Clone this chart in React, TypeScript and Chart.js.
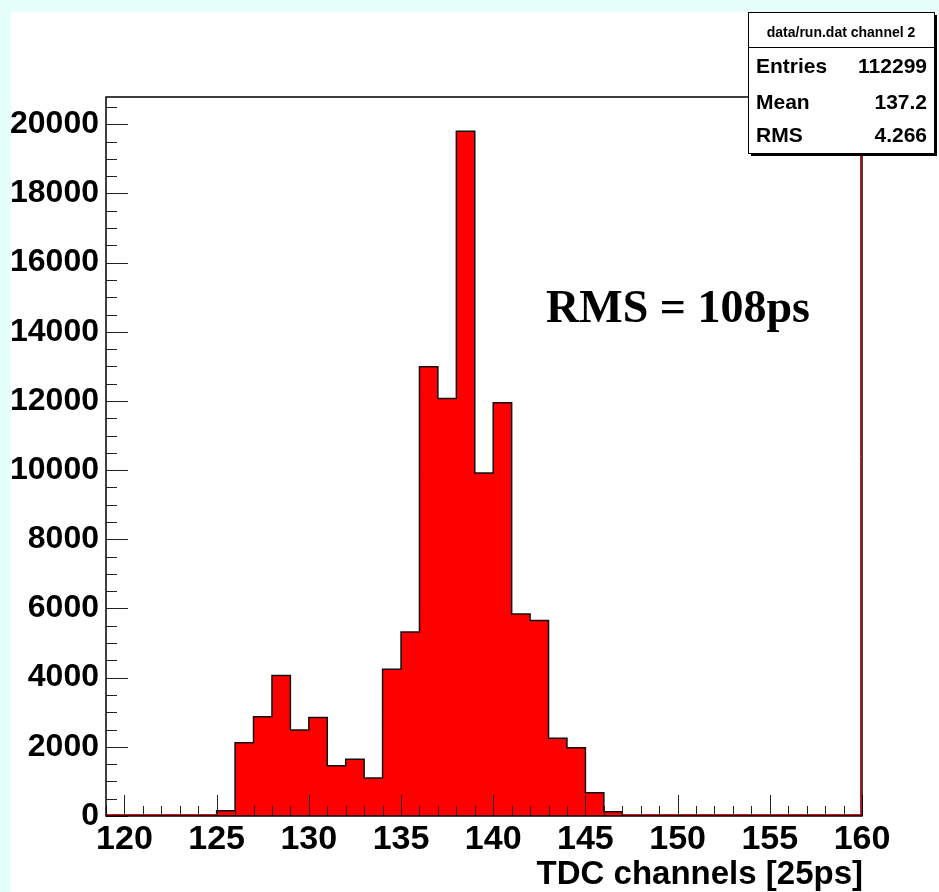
import React, { useEffect, useRef } from "react";
import { Chart, registerables } from "chart.js";

Chart.register(...registerables);

// Histogram bins: lower edge of each unit-wide TDC channel bin
const binLowEdges = [
  119, 120, 121, 122, 123, 124, 125, 126, 127, 128, 129, 130, 131, 132, 133,
  134, 135, 136, 137, 138, 139, 140, 141, 142, 143, 144, 145, 146, 147, 148,
  149, 150, 151, 152, 153, 154, 155, 156, 157, 158, 159,
];
const binCounts = [
  0, 0, 0, 0, 0, 0, 150, 2120, 2870, 4060, 2490, 2850, 1450, 1640, 1100,
  4240, 5320, 12990, 12070, 19800, 9920, 11950, 5840, 5650, 2250, 1970, 670, 120, 0, 0,
  0, 0, 0, 0, 0, 0, 0, 0, 0, 0, 0,
];
const histUpperEdge = 160;

const xMin = 119;
const xMax = 160;
const yMin = 0;
const yMax = 20790;

const xMajorTicks = [120, 125, 130, 135, 140, 145, 150, 155, 160];
const yMajorTicks = [0, 2000, 4000, 6000, 8000, 10000, 12000, 14000, 16000, 18000, 20000];
const xMinorStep = 1;
const yMinorStep = 500;

const xAxisTitle = "TDC channels [25ps]";
const annotationText = "RMS = 108ps";
const statsTitle = "data/run.dat channel 2";
const statsLabels = ["Entries", "Mean", "RMS"];
const statsValues = ["112299", "137.2", "4.266"];

const W = 939;
const H = 892;
const SANS = "'Liberation Sans', Arial, Helvetica, sans-serif";
const SERIF = "'Liberation Serif', 'Times New Roman', serif";

export default function App() {
  const canvasRef = useRef<HTMLCanvasElement | null>(null);

  useEffect(() => {
    document.body.style.margin = "0";
    const canvas = canvasRef.current;
    if (!canvas) return;

    const histData = binLowEdges.map((x, i) => ({ x, y: binCounts[i] }));
    histData.push({ x: histUpperEdge, y: 0 });

    const backgroundPlugin = {
      id: "rootBackground",
      beforeDraw(chart: any) {
        const ctx = chart.ctx;
        ctx.save();
        ctx.fillStyle = "#e6fffb";
        ctx.fillRect(0, 0, W, H);
        ctx.fillStyle = "#ffffff";
        ctx.fillRect(11, 12, W - 11, H - 12);
        ctx.restore();
      },
    };

    const framePlugin = {
      id: "rootFrame",
      afterDatasetsDraw(chart: any) {
        const ctx = chart.ctx;
        const { left, right, top, bottom } = chart.chartArea;
        const xs = chart.scales.x;
        const ys = chart.scales.y;
        ctx.save();
        // red zero-level and right-edge lines of the histogram fill
        ctx.strokeStyle = "#ff0000";
        ctx.lineWidth = 1;
        ctx.beginPath();
        ctx.moveTo(left, bottom - 1.5);
        ctx.lineTo(right, bottom - 1.5);
        ctx.moveTo(right - 1.5, top);
        ctx.lineTo(right - 1.5, bottom);
        ctx.stroke();

        // tick marks (inside the frame)
        ctx.strokeStyle = "#222";
        ctx.lineWidth = 1;
        ctx.beginPath();
        for (let v = Math.ceil(yMin / yMinorStep) * yMinorStep; v <= yMax; v += yMinorStep) {
          const y = Math.round(ys.getPixelForValue(v)) + 0.5;
          const major = yMajorTicks.includes(v);
          ctx.moveTo(left, y);
          ctx.lineTo(left + (major ? 22 : 11), y);
        }
        for (let v = Math.ceil(xMin / xMinorStep) * xMinorStep; v <= xMax; v += xMinorStep) {
          const x = Math.round(xs.getPixelForValue(v)) + 0.5;
          const major = xMajorTicks.includes(v);
          ctx.moveTo(x, bottom);
          ctx.lineTo(x, bottom - (major ? 21 : 10));
        }
        ctx.stroke();

        // frame
        ctx.strokeStyle = "#000";
        ctx.lineWidth = 1.5;
        ctx.strokeRect(left, top, right - left, bottom - top);
        ctx.restore();
      },
      afterDraw(chart: any) {
        const ctx = chart.ctx;
        const { right } = chart.chartArea;
        ctx.save();

        // annotation
        ctx.fillStyle = "#000";
        ctx.font = `bold 46px ${SERIF}`;
        ctx.textAlign = "left";
        ctx.textBaseline = "alphabetic";
        ctx.fillText(annotationText, 546, 322);

        // x-axis title
        ctx.font = `bold 33px ${SANS}`;
        ctx.textAlign = "right";
        ctx.fillText(xAxisTitle, right + 1, 884);

        // stats box
        const bx = 748, by = 12, bw = 186, bh = 141;
        ctx.fillStyle = "#000";
        ctx.fillRect(bx + 3, by + 3, bw, bh);
        ctx.fillStyle = "#fff";
        ctx.fillRect(bx, by, bw, bh);
        ctx.strokeStyle = "#000";
        ctx.lineWidth = 1;
        ctx.strokeRect(bx + 0.5, by + 0.5, bw, bh);
        ctx.beginPath();
        ctx.moveTo(bx, by + 35.5);
        ctx.lineTo(bx + bw, by + 35.5);
        ctx.stroke();

        ctx.fillStyle = "#000";
        ctx.font = `bold 14px ${SANS}`;
        ctx.textAlign = "center";
        ctx.fillText(statsTitle, bx + bw / 2, 37);

        const baselines = [73, 109, 142];
        ctx.font = `bold 21px ${SANS}`;
        statsLabels.forEach((lab, i) => {
          ctx.textAlign = "left";
          ctx.fillText(lab, 756, baselines[i]);
          ctx.textAlign = "right";
          ctx.fillText(statsValues[i], 927, baselines[i]);
        });
        ctx.restore();
      },
    };

    const chart = new Chart(canvas, {
      type: "line",
      data: {
        datasets: [
          {
            data: histData,
            stepped: true,
            fill: "origin",
            backgroundColor: "#ff0000",
            borderColor: "#111",
            borderWidth: 1.5,
            pointRadius: 0,
            tension: 0,
          },
        ],
      },
      options: {
        animation: false,
        responsive: false,
        maintainAspectRatio: false,
        devicePixelRatio: 1,
        layout: { padding: { left: 0, right: W - 862, top: 97, bottom: 0 } },
        plugins: {
          legend: { display: false },
          tooltip: { enabled: false },
          title: { display: false },
        },
        scales: {
          x: {
            type: "linear",
            min: xMin,
            max: xMax,
            grid: { display: false, drawTicks: false },
            border: { display: false },
            afterBuildTicks: (s: any) => {
              s.ticks = xMajorTicks.map((v) => ({ value: v }));
            },
            afterFit: (s: any) => {
              s.height = H - 816;
            },
            ticks: {
              font: { family: SANS, weight: "bold", size: 34 },
              color: "#000",
              padding: 3,
              maxRotation: 0,
              autoSkip: false,
              callback: (v: any) => String(v),
            },
          },
          y: {
            type: "linear",
            min: yMin,
            max: yMax,
            grid: { display: false, drawTicks: false },
            border: { display: false },
            afterBuildTicks: (s: any) => {
              s.ticks = yMajorTicks.map((v) => ({ value: v }));
            },
            afterFit: (s: any) => {
              s.width = 106;
            },
            ticks: {
              font: { family: SANS, weight: "bold", size: 32 },
              color: "#000",
              padding: 7,
              autoSkip: false,
              callback: (v: any) => String(v),
            },
          },
        },
      },
      plugins: [backgroundPlugin, framePlugin],
    });

    return () => {
      chart.destroy();
    };
  }, []);

  return (
    <canvas
      ref={canvasRef}
      width={W}
      height={H}
      style={{ display: "block", width: W, height: H }}
    />
  );
}
